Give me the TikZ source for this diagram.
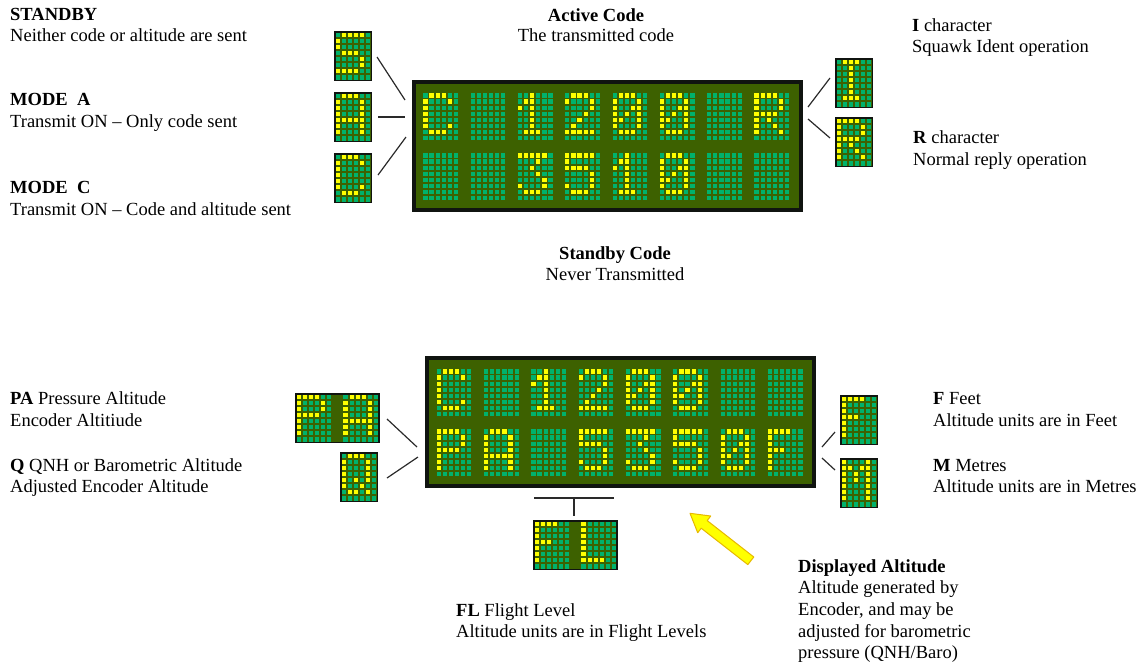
\documentclass[tikz,border=0pt]{standalone}
\usepackage{fontspec}
\setmainfont{Liberation Serif}

\definecolor{lcdback}{HTML}{3D6100}
\definecolor{dotoff}{HTML}{00B26B}
\definecolor{doton}{HTML}{FFFF00}
\definecolor{lcdframe}{HTML}{101410}
\definecolor{linkgray}{HTML}{2A2A2A}
\definecolor{arrowfill}{HTML}{FFFF00}
\definecolor{arrowedge}{HTML}{E6B800}

% glyph rows, 5 bits per row (16 = left column)
\def\gBlank{0,0,0,0,0,0,0}
\def\gC{14,17,16,16,16,17,14}
\def\gOne{4,12,20,4,4,4,14}
\def\gTwo{14,17,1,2,4,8,31}
\def\gThree{31,2,4,2,1,17,14}
\def\gFive{31,16,30,1,1,17,14}
\def\gZero{14,17,19,21,25,17,14}
\def\gR{30,17,17,30,20,18,17}
\def\gS{15,16,16,14,1,1,30}
\def\gA{14,17,17,17,31,17,17}
\def\gI{14,4,4,4,4,4,14}
\def\gP{30,17,17,30,16,16,16}
\def\gQ{14,17,17,17,21,18,13}
\def\gF{30,16,16,28,16,16,16}
\def\gL{16,16,16,16,16,16,30}
\def\gM{17,27,21,21,17,17,17}

\newcommand\dotpitch{6.1}
\newcommand\dotsize{4.2}

% one 6x8 dot cell, top left at (#1,#2)
\newcommand\lcdglyph[3]{%
  \edef\glyphrows{#3}%
  \foreach \cc in {0,...,5}
    \foreach \rr in {0,...,7}
      \fill[dotoff] ({#1+\cc*\dotpitch},{#2+\rr*\dotpitch}) rectangle ++(\dotsize,\dotsize);
  \foreach \rowval [count=\rr from 0] in \glyphrows
    \foreach \cc in {0,...,4}{
      \pgfmathtruncatemacro\lit{mod(floor(\rowval/2^(4-\cc)),2)}
      \ifnum\lit=1
        \fill[doton] ({#1+\cc*\dotpitch},{#2+\rr*\dotpitch}) rectangle ++(\dotsize,\dotsize);
      \fi}
}

% a row of cells
\newcommand\lcdrow[4][47.3]{%
  \foreach \g [count=\n from 0] in {#4}{%
    \lcdglyph{#2+\n*#1}{#3}{\g}}%
}

% small framed cell group
\newcommand\lcdbox[5]{%
  \node[glyphbox, minimum width=#4pt] (#1) at (#2,#3) {};
  \lcdrow[46.7]{#2+1.7}{#3+1.6}{#5}%
}

\tikzset{
  txt/.style={font=\fontsize{18.5}{21.5}\selectfont, inner sep=0pt, anchor=base west},
  head/.style={txt, font=\fontsize{18.5}{21.5}\selectfont\bfseries},
  link/.style={draw=linkgray, line width=1.2pt},
  display/.style={draw=lcdframe, line width=4pt, fill=lcdback, anchor=north west,
    inner sep=0pt, outer sep=2pt, minimum width=387pt, minimum height=128pt},
  glyphbox/.style={draw=lcdframe, line width=1.5pt, fill=lcdback, anchor=north west,
    inner sep=0pt, outer sep=0.75pt, minimum height=48.5pt},
}

\begin{document}
\begin{tikzpicture}[x=1pt,y=-1pt]
\useasboundingbox (0,0) rectangle (1146,665);

% transponder displays
\node[display] (mainlcd) at (412,80) {};
\lcdrow{423.3}{93.3}{\gC,\gBlank,\gOne,\gTwo,\gZero,\gZero,\gBlank,\gR}
\lcdrow{423.3}{153.3}{\gBlank,\gBlank,\gThree,\gFive,\gOne,\gZero,\gBlank,\gBlank}

\node[display] (altlcd) at (425,356) {};
\lcdrow{436.7}{369.3}{\gC,\gBlank,\gOne,\gTwo,\gZero,\gZero,\gBlank,\gBlank}
\lcdrow{436.7}{429.3}{\gP,\gA,\gBlank,\gFive,\gThree,\gFive,\gZero,\gF}

% mode characters
\lcdbox{modeS}{334}{31}{36.5}{\gS}
\lcdbox{modeA}{334}{92}{36.5}{\gA}
\lcdbox{modeC}{334}{153}{36.5}{\gC}
\lcdbox{replyI}{835}{58}{36.5}{\gI}
\lcdbox{replyR}{835}{117}{36.5}{\gR}

% altitude characters
\lcdbox{altPA}{295}{393}{83}{\gP,\gA}
\lcdbox{altQ}{340}{452}{36.5}{\gQ}
\lcdbox{unitF}{840}{395}{36.5}{\gF}
\lcdbox{unitM}{840}{458}{36.5}{\gM}
\lcdbox{unitFL}{533}{520}{83}{\gF,\gL}

% connector ends
\coordinate (s1) at (377,57);  \coordinate (s2) at (405,100);
\coordinate (a1) at (378,117); \coordinate (a2) at (405,117);
\coordinate (c1) at (378,175); \coordinate (c2) at (406,137);
\coordinate (i1) at (808,107); \coordinate (i2) at (830,78);
\coordinate (r1) at (808,119); \coordinate (r2) at (830,138);
\coordinate (pa1) at (387,419); \coordinate (pa2) at (417,447);
\coordinate (q1) at (387,478);  \coordinate (q2) at (418,457);
\coordinate (f1) at (822,447);  \coordinate (f2) at (835,432);
\coordinate (m1) at (822,458);  \coordinate (m2) at (835,470);
\coordinate (fl1) at (534,498); \coordinate (fl2) at (614,498);
\coordinate (flm) at (574,498); \coordinate (flb) at (574,516);

\draw[link] (s1) -- (s2);
\draw[link] (a1) -- (a2);
\draw[link] (c1) -- (c2);
\draw[link] (i1) -- (i2);
\draw[link] (r1) -- (r2);
\draw[link] (pa1) -- (pa2);
\draw[link] (q1) -- (q2);
\draw[link] (f1) -- (f2);
\draw[link] (m1) -- (m2);
\draw[link] (fl1) -- (fl2);
\draw[link] (flm) -- (flb);

% pointer to the displayed altitude
\draw[fill=arrowfill, draw=arrowedge, line width=1pt, line join=round]
  (690,513.3) -- (710.7,516.0) -- (707.2,520.6) -- (753.8,557.0)
  -- (747.8,564.6) -- (701.2,528.2) -- (697.7,532.7) -- cycle;

% left texts
\node[head] (standby) at (10,20.7) {STANDBY};
\node[txt] (standbyd) at (10,41.7) {Neither code or altitude are sent};
\node[head] (modea) at (10,105.5) {MODE\ \ A};
\node[txt] (modead) at (10,127.5) {Transmit ON -- Only code sent};
\node[head] (modec) at (10,193) {MODE\ \ C};
\node[txt] (modecd) at (10,215) {Transmit ON -- Code and altitude sent};

% centre texts
\node[head, anchor=base] (active) at (596,21) {Active Code};
\node[txt, anchor=base] (actived) at (596,41) {The transmitted code};
\node[head, anchor=base] (stbycode) at (615,259) {Standby Code};
\node[txt, anchor=base] (stbycoded) at (615,280) {Never Transmitted};

% right texts
\node[txt] (ichar) at (912,31) {\textbf{I} character};
\node[txt] (ichard) at (912,52) {Squawk Ident operation};
\node[txt] (rchar) at (913,143) {\textbf{R} character};
\node[txt] (rchard) at (913,165) {Normal reply operation};

% altitude texts
\node[txt] (patxt) at (10,404) {\textbf{PA} Pressure Altitude};
\node[txt] (patxtd) at (10,426) {Encoder Altitiude};
\node[txt] (qtxt) at (10,471) {\textbf{Q} QNH or Barometric Altitude};
\node[txt] (qtxtd) at (10,492) {Adjusted Encoder Altitude};
\node[txt] (ftxt) at (933,404) {\textbf{F} Feet};
\node[txt] (ftxtd) at (933,426) {Altitude units are in Feet};
\node[txt] (mtxt) at (933,471) {\textbf{M} Metres};
\node[txt] (mtxtd) at (933,492) {Altitude units are in Metres};
\node[txt] (fltxt) at (456,616) {\textbf{FL} Flight Level};
\node[txt] (fltxtd) at (456,637) {Altitude units are in Flight Levels};

% displayed altitude note
\node[head] (dispalt) at (798,572) {Displayed Altitude};
\node[txt] (dispalt1) at (798,593) {Altitude generated by};
\node[txt] (dispalt2) at (798,615) {Encoder, and may be};
\node[txt] (dispalt3) at (798,637) {adjusted for barometric};
\node[txt] (dispalt4) at (798,658) {pressure (QNH/Baro)};

\end{tikzpicture}
\end{document}
